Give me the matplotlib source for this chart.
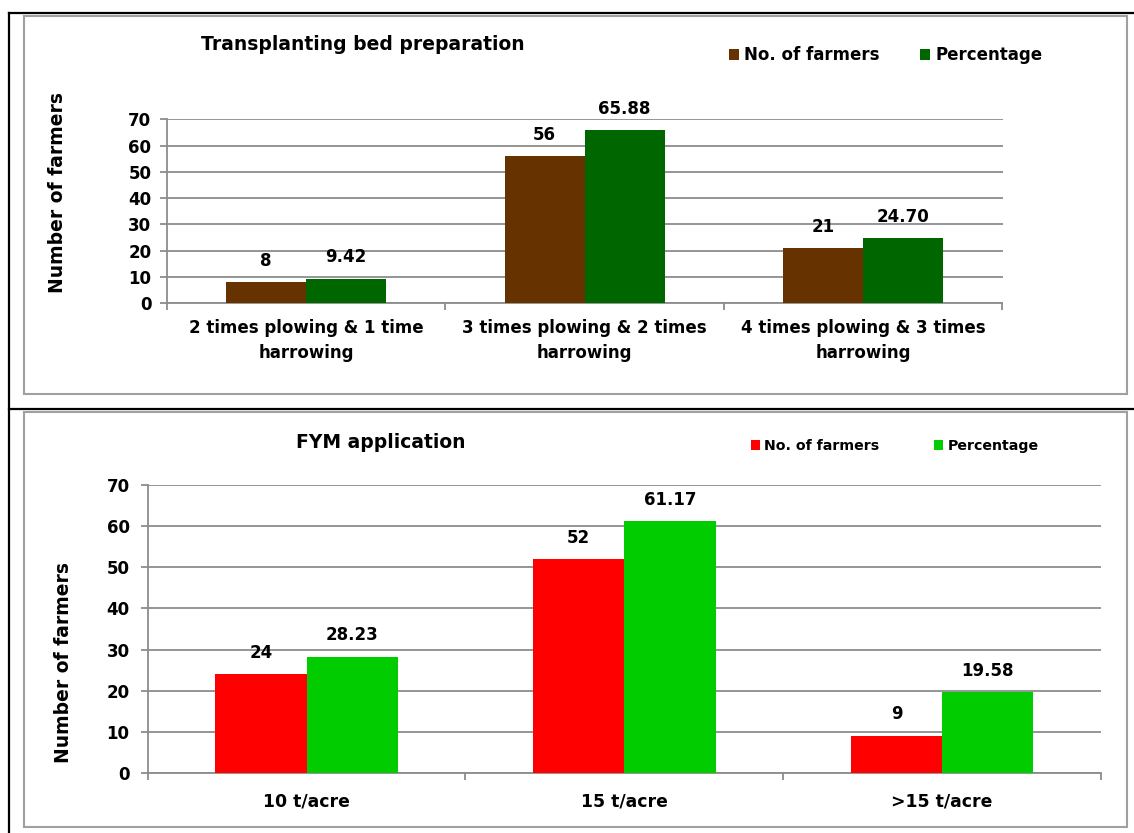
import matplotlib
matplotlib.use('Agg')
from matplotlib import pyplot as plt
from matplotlib.patches import Rectangle
from matplotlib.lines import Line2D
import numpy as np

# Data
bed_categories = ['2 times plowing & 1 time\nharrowing',
                  '3 times plowing & 2 times\nharrowing',
                  '4 times plowing & 3 times\nharrowing']
bed_farmers = [8, 56, 21]
bed_percentage = [9.42, 65.88, 24.70]

fym_categories = ['10 t/acre', '15 t/acre', '>15 t/acre']
fym_farmers = [24, 52, 9]
fym_percentage = [28.23, 61.17, 19.58]

series_names = ['No. of farmers', 'Percentage']
y_ticks = [0, 10, 20, 30, 40, 50, 60, 70]

W, H = 1134, 833
plt.rcParams['font.family'] = 'DejaVu Sans'
plt.rcParams['font.weight'] = 'bold'

fig = plt.figure(figsize=(W / 100, H / 100), dpi=100)
GRAY = '#8c8c8c'


def fx(px):
    return px / W


def fy(py):
    return 1 - py / H


def px_rect(x0, y0, x1, y1):
    return [fx(x0), fy(y1), fx(x1) - fx(x0), fy(y0) - fy(y1)]


# table lines and chart frames
for (x0, y0, x1, y1) in [(9, 13, 1134, 13), (9, 409, 1134, 409), (9, 13, 9, 833)]:
    fig.add_artist(Line2D([fx(x0), fx(x1)], [fy(y0), fy(y1)], color='black', lw=1.6))
for (x0, y0, x1, y1) in [(24, 16, 1127, 394), (24, 412, 1127, 827)]:
    fig.add_artist(Rectangle((fx(x0), fy(y1)), fx(x1) - fx(x0), fy(y0) - fy(y1),
                             fill=False, edgecolor='#a0a0a0', lw=1.5))


def draw_panel(rect, categories, farmers, pct, colors, title, title_xy, legend_xy,
               fs, xfs, legend_fs, ylabel_xy, label_pad, tick_pad, linespacing):
    ax = fig.add_axes(px_rect(*rect))
    x = np.arange(len(categories))
    w = 0.287
    b1 = ax.bar(x - w / 2, farmers, w, color=colors[0], label=series_names[0], zorder=3)
    b2 = ax.bar(x + w / 2, pct, w, color=colors[1], label=series_names[1], zorder=3)
    for rect_, v in zip(b1, farmers):
        ax.annotate('{:g}'.format(v), (rect_.get_x() + rect_.get_width() / 2, v),
                    xytext=(0, 15.5), textcoords='offset points', ha='center',
                    va='center', fontsize=fs, fontweight='bold')
    for rect_, v in zip(b2, pct):
        ax.annotate('{:.2f}'.format(v), (rect_.get_x() + rect_.get_width() / 2, v),
                    xytext=(0, 15.5), textcoords='offset points', ha='center',
                    va='center', fontsize=fs, fontweight='bold')

    ax.set_xlim(-0.5, len(categories) - 0.5)
    ax.set_ylim(0, 70)
    ax.set_yticks(y_ticks)
    ax.yaxis.grid(True, color=GRAY, lw=1.3, zorder=0)
    ax.set_axisbelow(True)
    ax.set_xticks(x)
    ax.set_xticklabels(categories, fontsize=xfs, fontweight='bold', linespacing=linespacing)
    ax.set_xticks(np.arange(len(categories) + 1) - 0.5, minor=True)
    ax.tick_params(axis='x', which='major', length=0, pad=label_pad)
    ax.tick_params(axis='x', which='minor', length=5, color=GRAY, width=1.3)
    ax.tick_params(axis='y', length=5, color=GRAY, width=1.3, pad=tick_pad, labelsize=fs)
    for s in ['top', 'right']:
        ax.spines[s].set_visible(False)
    for s in ['left', 'bottom']:
        ax.spines[s].set_color(GRAY)
        ax.spines[s].set_linewidth(1.3)

    ax.set_ylabel('Number of farmers', fontsize=13.5, fontweight='bold')
    ax.yaxis.set_label_coords(*ylabel_xy)

    fig.text(fx(title_xy[0]), fy(title_xy[1]), title, ha='center', va='center',
             fontsize=13.5, fontweight='bold')

    fig.legend(handles=[b1, b2], loc='center left', ncol=2,
               bbox_to_anchor=(fx(legend_xy[0]), fy(legend_xy[1])),
               frameon=False, borderpad=0, borderaxespad=0,
               handlelength=0.62, handleheight=0.62, handletextpad=0.3,
               columnspacing=legend_xy[2], prop={'weight': 'bold', 'size': legend_fs})
    return ax


draw_panel((166.7, 119.3, 1002.5, 303.3), bed_categories, bed_farmers, bed_percentage,
           ['#663300', '#006600'], 'Transplanting bed preparation', (363, 44),
           (729, 55, 2.4), 12, 12, 12, (-0.119, 0.6), 11, 6, 1.55)

draw_panel((147.7, 485, 1101, 773), fym_categories, fym_farmers, fym_percentage,
           ['#ff0000', '#00cc00'], 'FYM application', (381, 442),
           (751, 446, 3.9), 12, 12.4, 10.2, (-0.078, 0.385), 14, 8, 1.4)

fig.savefig('out.png', dpi=100)
